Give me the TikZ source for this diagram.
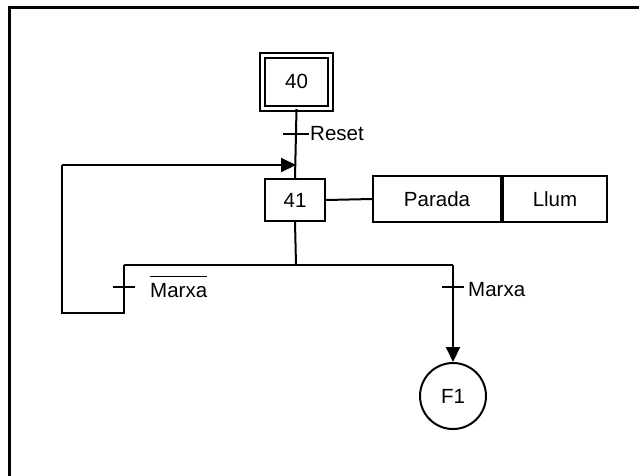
\documentclass[tikz,border=0pt]{standalone}
\usepackage{fontspec}
\setmainfont{Liberation Sans}
\usetikzlibrary{arrows.meta}
\begin{document}
\begin{tikzpicture}[x=1pt,y=-1pt,
  every node/.style={font=\fontsize{20.5}{24}\selectfont},
  ln/.style={line width=2pt},
  stepbox/.style={draw,line width=2pt,minimum width=60pt,minimum height=42pt,inner sep=0pt},
  initstep/.style={draw,line width=2pt,double,double distance=3pt,minimum width=68.5pt,minimum height=53pt,inner sep=0pt},
  actbox/.style={draw,line width=2pt,minimum height=46pt,inner sep=0pt},
  macro/.style={draw,circle,line width=2pt,minimum size=66pt,inner sep=0pt},
  tick/.style={line width=2pt},
  arr/.style={-{Triangle[length=15pt,width=14pt]}},
  lbl/.style={anchor=west,inner sep=0pt}]
\useasboundingbox (0,0) rectangle (639,475);
\draw[line width=3pt] (9,478) -- (9,7) -- (642,7);
% steps
\node[initstep] (s40) at (296.5,81.5) {40};
\node[stepbox] (s41) at (295,200) {41};
\node[actbox,minimum width=128pt] (parada) at (437,199) {Parada};
\node[actbox,minimum width=104pt,anchor=west] (llum) at (parada.east) {Llum};
\node[macro] (f1) at (453,396) {F1};
% coordinates
\coordinate (t1) at (296,134);
\coordinate (j) at (296,265);
\coordinate (jL) at (124,265);
\coordinate (jR) at (453,265);
\coordinate (tL) at (124,287);
\coordinate (tR) at (453,287);
\coordinate (bl) at (124,313);
\coordinate (c1) at (62,313);
\coordinate (c2) at (62,165);
\coordinate (a41) at (296,165);
% connectors
\draw[ln] (s40.south) -- (s41.north);
\draw[tick] ([xshift=-13pt]t1) -- ([xshift=13pt]t1);
\node[lbl] (reset) at ([xshift=14pt]t1) {Reset};
\draw[ln] (s41.east) -- (parada.west);
\draw[ln] (s41.south) -- (j);
\draw[ln] (jL) -- (jR);
\draw[ln] (jL) -- (bl) -- (c1) -- (c2);
\draw[ln,arr] (c2) -- (a41);
\draw[tick] ([xshift=-11pt]tL) -- ([xshift=11pt]tL);
\node[lbl] (nmarxa) at ([xshift=26pt,yshift=0.5pt]tL) {$\overline{\hbox{\rule{0pt}{20pt}Marxa}}$};
\draw[ln,arr] (jR) -- (f1.north);
\draw[tick] ([xshift=-11pt]tR) -- ([xshift=11pt]tR);
\node[lbl] (marxa) at ([xshift=15pt,yshift=-3pt]tR) {Marxa};
\end{tikzpicture}
\end{document}
